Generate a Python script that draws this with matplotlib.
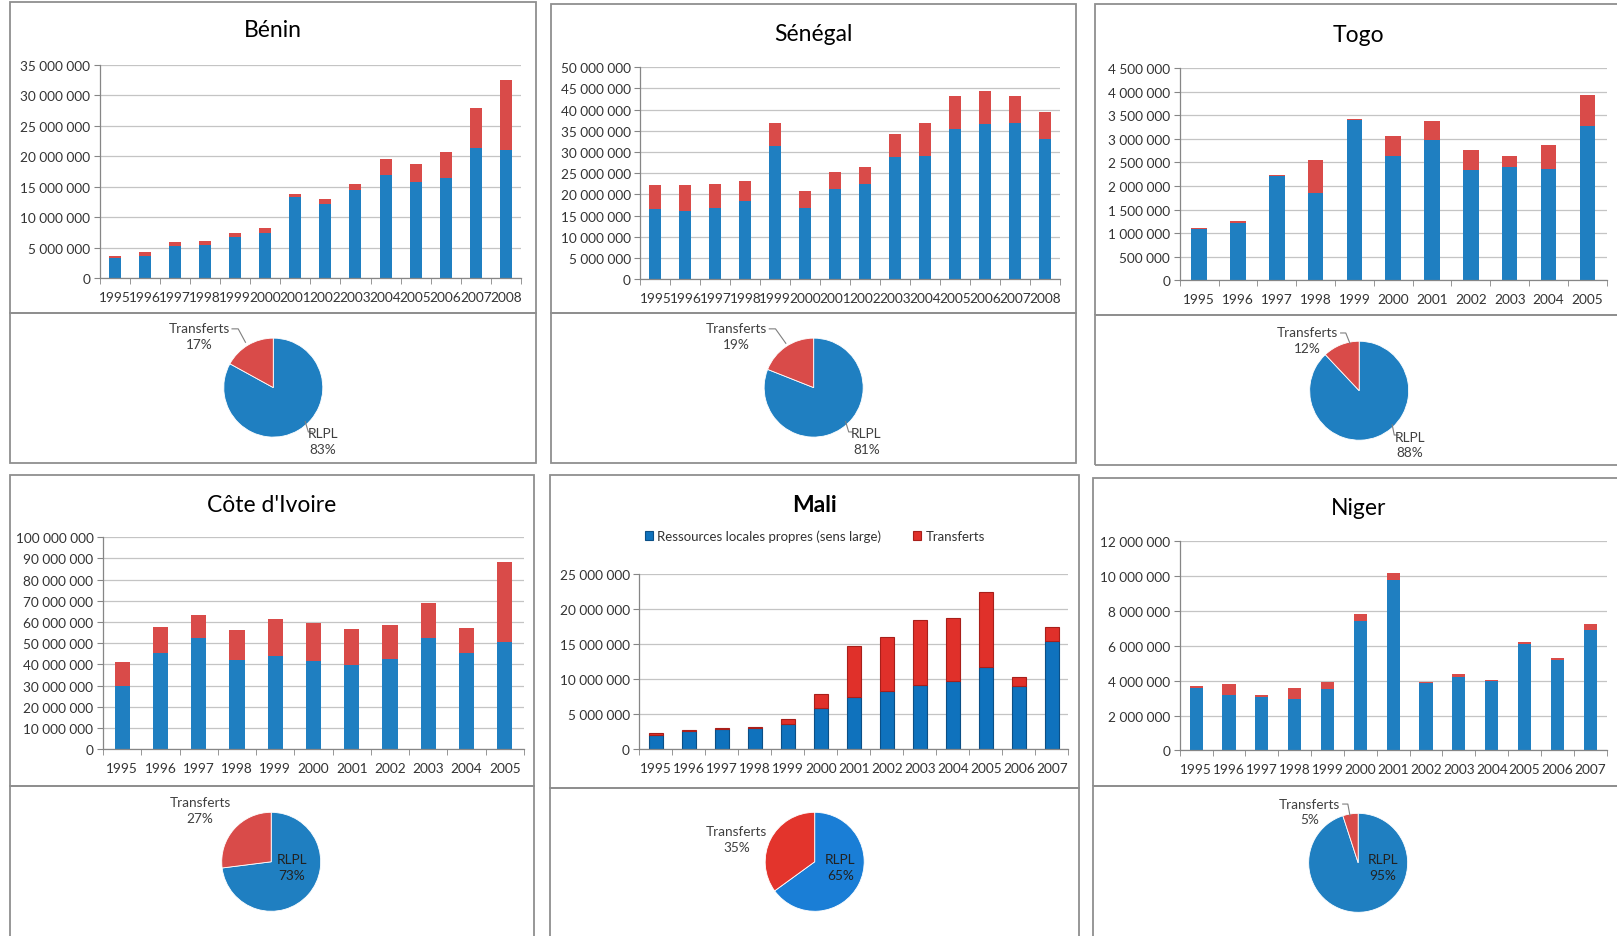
import numpy as np
import matplotlib.pyplot as plt
from matplotlib.patches import Rectangle
from matplotlib.ticker import FuncFormatter, FixedLocator

plt.rcParams['font.family'] = ['Lato', 'DejaVu Sans']

# ---- data (values in millions of FCFA) ----
benin_years = [str(y) for y in range(1995, 2009)]
benin_rlpl = [3.4, 3.7, 5.3, 5.4, 6.8, 7.4, 13.3, 12.2, 14.5, 16.9, 15.8, 16.5, 21.3, 21.0]
benin_transf = [0.3, 0.7, 0.7, 0.8, 0.7, 0.8, 0.5, 0.8, 0.9, 2.6, 3.0, 4.3, 6.7, 11.5]
benin_pie = [83, 17]

senegal_years = [str(y) for y in range(1995, 2009)]
senegal_rlpl = [16.5, 16.0, 16.8, 18.5, 31.5, 16.8, 21.2, 22.4, 28.7, 29.1, 35.5, 36.7, 36.9, 33.0]
senegal_transf = [5.8, 6.3, 5.7, 4.7, 5.3, 4.1, 4.0, 4.0, 5.6, 7.8, 7.6, 7.6, 6.3, 6.5]
senegal_pie = [81, 19]

togo_years = [str(y) for y in range(1995, 2006)]
togo_rlpl = [1.10, 1.21, 2.21, 1.85, 3.40, 2.64, 2.98, 2.33, 2.40, 2.36, 3.28]
togo_transf = [0.02, 0.04, 0.03, 0.70, 0.03, 0.43, 0.40, 0.44, 0.24, 0.52, 0.64]
togo_pie = [88, 12]

ci_years = [str(y) for y in range(1995, 2006)]
ci_rlpl = [29.7, 45.5, 52.3, 42.3, 44.0, 41.7, 39.7, 42.6, 52.6, 45.5, 50.5]
ci_transf = [11.6, 12.0, 10.9, 13.9, 17.5, 17.8, 16.8, 16.2, 16.2, 11.5, 37.7]
ci_pie = [73, 27]

mali_years = [str(y) for y in range(1995, 2008)]
mali_rlpl = [2.1, 2.6, 2.9, 3.0, 3.6, 5.9, 7.5, 8.4, 9.2, 9.8, 11.8, 9.1, 15.5]
mali_transf = [0.2, 0.15, 0.15, 0.15, 0.7, 2.0, 7.2, 7.6, 9.2, 8.9, 10.6, 1.2, 1.9]
mali_pie = [65, 35]

niger_years = [str(y) for y in range(1995, 2008)]
niger_rlpl = [3.6, 3.2, 3.05, 2.95, 3.55, 7.45, 9.75, 3.85, 4.2, 4.0, 6.1, 5.2, 6.9]
niger_transf = [0.1, 0.6, 0.15, 0.65, 0.35, 0.4, 0.4, 0.1, 0.2, 0.05, 0.1, 0.1, 0.35]
niger_pie = [95, 5]

pie_labels = ['RLPL', 'Transferts']
legend_labels = ['Ressources locales propres (sens large)', 'Transferts']

BLUE = '#1f7fc1'
RED = '#d94b49'
BORDER = '#8f8f8f'

# layout is worked out on a 1568 x 909 grid
W, H = 1568, 909

panels = [
    dict(name='Bénin', years=benin_years, rlpl=benin_rlpl, tr=benin_transf, pie=benin_pie,
         ymax=35, ystep=5, ax=(97, 505, 64, 271), title=(265, 30),
         box=(10, 3, 520, 305, 450), pc=(265, 377),
         lab_t=(193, 318), lab_r=(313, 420), lead_t=[(225, 320), (231, 320), (238, 333)],
         lead_r=[(296, 410), (299, 420), (303, 420)]),
    dict(name='Sénégal', years=senegal_years, rlpl=senegal_rlpl, tr=senegal_transf, pie=senegal_pie,
         ymax=50, ystep=5, ax=(621, 1028, 66, 272), title=(789, 33),
         box=(534, 5, 1043, 305, 450), pc=(789, 377),
         lab_t=(714, 318), lab_r=(840, 420), lead_t=[(746, 320), (752, 320), (762, 334)],
         lead_r=[(820, 410), (823, 420), (827, 420)]),
    dict(name='Togo', years=togo_years, rlpl=togo_rlpl, tr=togo_transf, pie=togo_pie,
         ymax=4.5, ystep=0.5, ax=(1144, 1558, 67, 273), title=(1317, 34),
         box=(1062, 5, 1575, 307, 452), pc=(1318, 380),
         lab_t=(1268, 322), lab_r=(1367, 423), lead_t=[(1300, 324), (1305, 324), (1309, 334)],
         lead_r=[(1350, 413), (1352, 423), (1356, 423)]),
    dict(name="Côte d'Ivoire", years=ci_years, rlpl=ci_rlpl, tr=ci_transf, pie=ci_pie,
         ymax=100, ystep=10, ax=(100, 508, 522, 728), title=(263, 490),
         box=(10, 462, 518, 763, 915), pc=(263, 837),
         lab_t=(194, 778), lab_r=(283, 833), lead_t=None, lead_r=None),
    dict(name='Mali', years=mali_years, rlpl=mali_rlpl, tr=mali_transf, pie=mali_pie,
         ymax=25, ystep=5, ax=(620, 1036, 558, 728), title=(790, 490),
         box=(533, 462, 1046, 765, 915), pc=(790, 837),
         lab_t=(714, 806), lab_r=(815, 833), lead_t=None, lead_r=None),
    dict(name='Niger', years=niger_years, rlpl=niger_rlpl, tr=niger_transf, pie=niger_pie,
         ymax=12, ystep=2, ax=(1144, 1558, 526, 729), title=(1317, 493),
         box=(1060, 465, 1575, 763, 915), pc=(1317, 838),
         lab_t=(1270, 779), lab_r=(1341, 833), lead_t=[(1302, 781), (1307, 781), (1309, 792)],
         lead_r=None),
]


def fmt(v, pos):
    return f"{int(round(v)):,}".replace(',', ' ')


fig = plt.figure(figsize=(16.17, 9.37), dpi=100)
ov = fig.add_axes([0, 0, 1, 1])

for p in panels:
    # boxes around the bar chart and the pie
    x0, y0, x1, ymid, y1 = p['box']
    ov.add_patch(Rectangle((x0, H - ymid), x1 - x0, ymid - y0, fill=False, ec=BORDER, lw=1.3))
    ov.add_patch(Rectangle((x0, H - y1), x1 - x0, y1 - ymid, fill=False, ec=BORDER, lw=1.3))

    bold = 'bold' if p['name'] == 'Mali' else 'normal'
    ov.text(p['title'][0], H - p['title'][1], p['name'], ha='center', va='center',
            fontsize=16.5, fontweight=bold, color='black')

    # pie
    mali = p['name'] == 'Mali'
    pcol = ['#1a7ed6', '#e3342c'] if mali else [BLUE, RED]
    ov.pie(p['pie'], colors=pcol, startangle=90, counterclock=False,
           center=(p['pc'][0], H - p['pc'][1]), radius=48,
           wedgeprops=dict(edgecolor='white', linewidth=0.6))
    tx, ty = p['lab_t']
    ov.text(tx, H - ty - 9, f"{pie_labels[1]}\n{p['pie'][1]}%", ha='center', va='center',
            fontsize=9.8, color='#404040', linespacing=1.35)
    rx, ry = p['lab_r']
    ov.text(rx, H - ry - 9, f"{pie_labels[0]}\n{p['pie'][0]}%", ha='center', va='center',
            fontsize=9.8, color='#222222' if p['lead_r'] is None else '#404040', linespacing=1.35)
    for lead in (p['lead_t'], p['lead_r']):
        if lead:
            ov.plot([q[0] for q in lead], [H - q[1] for q in lead], color='#7f7f7f', lw=0.8)

ov.set_xlim(0, W)
ov.set_ylim(0, H)
ov.set_aspect('auto')
ov.axis('off')

for p in panels:
    a0, a1, top, bot = p['ax']
    ax = fig.add_axes([a0 / W, 1 - bot / H, (a1 - a0) / W, (bot - top) / H])
    n = len(p['years'])
    x = np.arange(n)
    rl = np.array(p['rlpl']) * 1e6
    tr = np.array(p['tr']) * 1e6
    if p['name'] == 'Mali':
        ax.bar(x, rl, 0.42, color='#0f72bd', edgecolor='#0b4f86', lw=0.8, label=legend_labels[0])
        ax.bar(x, tr, 0.42, bottom=rl, color='#e0302a', edgecolor='#a81f1a', lw=0.8, label=legend_labels[1])
        fig.legend(loc='center', bbox_to_anchor=(790 / W, 1 - 521 / H), ncol=2, frameon=False,
                   fontsize=9.5, handlelength=0.6, handleheight=0.6, handletextpad=0.3,
                   columnspacing=2.5, labelcolor='#333333')
    else:
        ax.bar(x, rl, 0.4, color=BLUE, lw=0)
        ax.bar(x, tr, 0.4, bottom=rl, color=RED, lw=0)

    ymax = p['ymax'] * 1e6
    ax.set_ylim(0, ymax)
    ax.set_xlim(-0.5, n - 0.5)
    ax.yaxis.set_major_locator(FixedLocator(np.arange(0, p['ymax'] + p['ystep'] / 2, p['ystep']) * 1e6))
    ax.yaxis.set_major_formatter(FuncFormatter(fmt))
    ax.set_xticks(x)
    ax.set_xticklabels(p['years'])
    ax.set_xticks(np.arange(-0.5, n), minor=True)
    ax.tick_params(axis='x', which='major', length=0, pad=9, labelsize=9.8, colors='#333333')
    ax.tick_params(axis='x', which='minor', length=4, color='#868686')
    ax.tick_params(axis='y', length=4, color='#868686', labelsize=9.8, labelcolor='#333333', pad=3)
    ax.grid(axis='y', color='#c4c4c4', lw=0.9)
    ax.set_axisbelow(True)
    for s in ('top', 'right'):
        ax.spines[s].set_visible(False)
    for s in ('left', 'bottom'):
        ax.spines[s].set_color('#868686')
        ax.spines[s].set_linewidth(0.9)

fig.savefig('out.png', dpi=100)
